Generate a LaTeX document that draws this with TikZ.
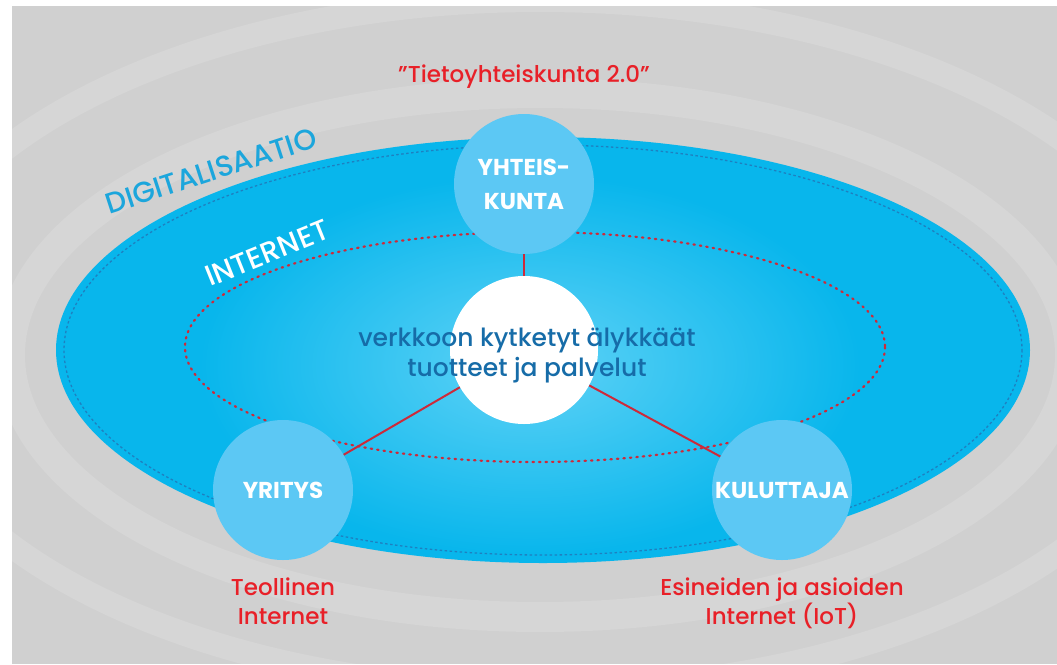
\documentclass[tikz,border=0pt]{standalone}
\usepackage{fontspec}
\setmainfont{Poppins}[UprightFont=* Medium, BoldFont=* Bold]
\usetikzlibrary{positioning}
\definecolor{bggray}{RGB}{208,208,208}
\definecolor{cyanfill}{RGB}{8,182,236}
\definecolor{glow}{RGB}{95,210,246}
\definecolor{dashblue}{RGB}{30,128,192}
\definecolor{bubblefill}{RGB}{92,200,244}
\definecolor{linkred}{RGB}{205,42,58}
\definecolor{labelred}{RGB}{232,32,40}
\definecolor{digiblue}{RGB}{28,166,220}
\definecolor{hubtext}{RGB}{22,108,168}

\begin{document}
\begin{tikzpicture}[x=1pt,y=-1pt,
    bubble/.style={circle, fill=bubblefill, minimum size=140pt, inner sep=0pt, text=white, align=center, font=\bfseries\fontsize{23}{34}\selectfont},
    link/.style={draw=linkred, line width=2pt},
    redlabel/.style={text=labelred, align=center, font=\fontsize{23}{29}\selectfont},
    swirl/.style={draw=white, opacity=0.13}]
\useasboundingbox (0,0) rectangle (1057,664);
\fill[white] (0,0) rectangle (1057,664);
\fill[bggray] (12,6) rectangle (1057,664);
\draw[swirl, line width=30pt] (540,355) circle [x radius=530, y radius=262];
\draw[swirl, line width=24pt] (540,345) circle [x radius=650, y radius=345];
\fill[cyanfill] (543,350) circle [x radius=487, y radius=213];
\shade[inner color=glow, outer color=cyanfill] (530,365) circle [x radius=330, y radius=190];
\draw[dashblue, line width=1.3pt, dash pattern=on 2.5pt off 2.5pt] (543,350) circle [x radius=479, y radius=205];
\draw[linkred, line width=2.2pt, line cap=round, dash pattern=on 1.5pt off 5pt] (535,347) circle [x radius=350, y radius=115];
\node[rotate=18, text=digiblue, font=\fontsize{29}{29}\selectfont] (digi) at (211,171) {DIGITALISAATIO};
\node[rotate=22, text=white, font=\fontsize{29}{29}\selectfont] (inet) at (267,253) {INTERNET};
\node[bubble] (yht) at (524,184) {YHTEIS-\\KUNTA};
\node[circle, fill=white, minimum size=148pt, inner sep=0pt] (hub) at (524,350) {};
\node[text=hubtext, align=center, font=\fontsize{25}{30}\selectfont] (hubtxt) at (527,356) {verkkoon kytketyt älykkäät\\tuotteet ja palvelut};
\node[bubble] (yri) at (283,490) {YRITYS};
\node[bubble] (kul) at (782,490) {KULUTTAJA};
\draw[link] (yht) -- (hub);
\draw[link] (hub) -- (yri);
\draw[link] (hub) -- (kul);
\node[redlabel, above=22pt of yht] (tieto) {”Tietoyhteiskunta 2.0”};
\node[redlabel, below=14pt of yri] (yrilbl) {Teollinen\\Internet};
\node[redlabel, below=14pt of kul] (kullbl) {Esineiden ja asioiden\\Internet (IoT)};
\end{tikzpicture}
\end{document}
